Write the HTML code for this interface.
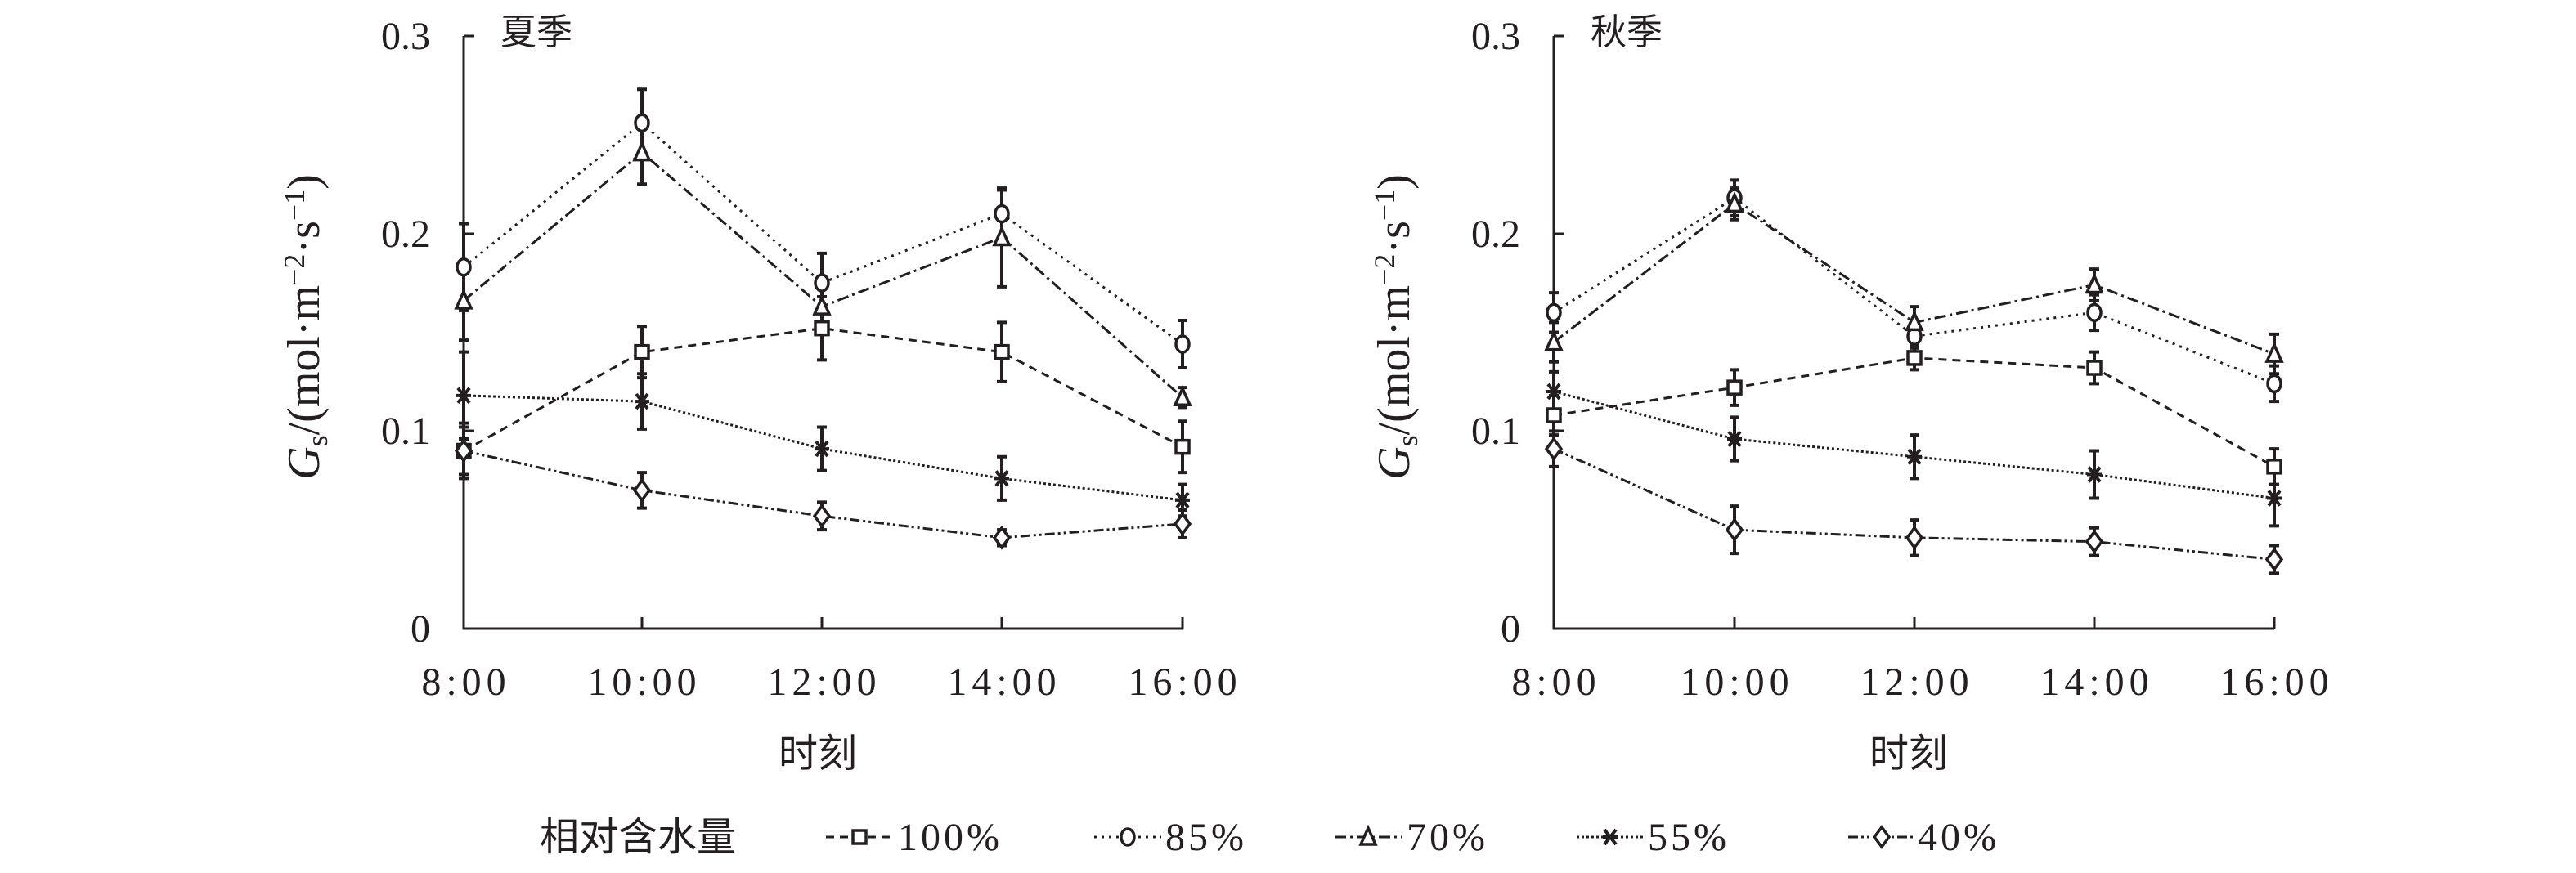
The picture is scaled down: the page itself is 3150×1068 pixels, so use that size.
<!DOCTYPE html>
<html><head><meta charset="utf-8"><style>
html,body{margin:0;padding:0;background:#fff;}
svg{display:block;}
text{font-family:"Liberation Serif","Noto Serif CJK SC",serif;fill:#231f20;}
.cj{font-family:"Liberation Sans","Noto Sans CJK SC",sans-serif;}
</style></head><body>
<svg id="s" width="3150" height="1068" viewBox="0 0 3150 1068" xmlns="http://www.w3.org/2000/svg">
<g stroke="#231f20" stroke-width="3" fill="none">
<path d="M567 44 V769 H1446 M567 44 H580 M567 286 H580 M567 527 H580 M785 769 V755 M1005 769 V755 M1225 769 V755 M1446 769 V755"/>
<path d="M1900 44 V769 H2781 M1900 44 H1913 M1900 286 H1913 M1900 527 H1913 M2121 769 V755 M2341 769 V755 M2561 769 V755 M2781 769 V755"/>
</g>
<g font-size="48" text-anchor="end">
<text x="526" y="60">0.3</text><text x="526" y="302">0.2</text><text x="526" y="543">0.1</text><text x="526" y="785">0</text>
<text x="1859" y="60">0.3</text><text x="1859" y="302">0.2</text><text x="1859" y="543">0.1</text><text x="1859" y="785">0</text>
</g>
<g font-size="48" text-anchor="middle" letter-spacing="6">
<text x="570" y="850">8:00</text><text x="788" y="850">10:00</text><text x="1008" y="850">12:00</text><text x="1228" y="850">14:00</text><text x="1449" y="850">16:00</text>
<text x="1903" y="850">8:00</text><text x="2124" y="850">10:00</text><text x="2344" y="850">12:00</text><text x="2564" y="850">14:00</text><text x="2784" y="850">16:00</text>
</g>
<text class="cj" x="612" y="54" font-size="44">夏季</text><text class="cj" x="1945" y="54" font-size="44">秋季</text>
<text class="cj" x="1000" y="938" font-size="48" text-anchor="middle">时刻</text><text class="cj" x="2334" y="938" font-size="48" text-anchor="middle">时刻</text>
<text class="cj" x="660" y="1040" font-size="48">相对含水量</text>
<g font-size="56">
<text transform="translate(390,400) rotate(-90)" text-anchor="middle"><tspan font-style="italic">G</tspan><tspan font-size="36" dy="10">s</tspan><tspan dy="-10">/(mol·m</tspan><tspan font-size="36" dy="-18">−2</tspan><tspan dy="18">·s</tspan><tspan font-size="36" dy="-18">−1</tspan><tspan dy="18">)</tspan></text>
<text transform="translate(1723,400) rotate(-90)" text-anchor="middle"><tspan font-style="italic">G</tspan><tspan font-size="36" dy="10">s</tspan><tspan dy="-10">/(mol·m</tspan><tspan font-size="36" dy="-18">−2</tspan><tspan dy="18">·s</tspan><tspan font-size="36" dy="-18">−1</tspan><tspan dy="18">)</tspan></text>
</g>
<g font-size="48" letter-spacing="4">
<text x="1098" y="1040">100%</text><text x="1425" y="1040">85%</text><text x="1720" y="1040">70%</text><text x="2015" y="1040">55%</text><text x="2345" y="1040">40%</text>
</g>
<g id="g"></g>
</svg>
<script>
var g=document.getElementById('g'),NS="http://www.w3.org/2000/svg";
function el(t,a){var e=document.createElementNS(NS,t);for(var k in a)e.setAttribute(k,a[k]);g.appendChild(e);return e;}
var dash=["10,7","3,6","14,5,3,5","3,3","12,4,3,4,3,4"];
function mk(type,x,y){var r=9,st={stroke:"#231f20","stroke-width":3.5,fill:"#fff"};
 if(type==0){st.x=x-r+1;st.y=y-r+1;st.width=2*r-2;st.height=2*r-2;el("rect",st);}
 else if(type==1){st.cx=x;st.cy=y;st.rx=r-1;st.ry=r+1;el("ellipse",st);}
 else if(type==2){st.points=(x)+","+(y-r-2)+" "+(x-r)+","+(y+r)+" "+(x+r)+","+(y+r);el("polygon",st);}
 else if(type==3){el("path",{d:"M"+(x-r)+" "+y+"H"+(x+r)+"M"+(x-r+2)+" "+(y-r)+"L"+(x+r-2)+" "+(y+r)+"M"+(x+r-2)+" "+(y-r)+"L"+(x-r+2)+" "+(y+r),stroke:"#231f20","stroke-width":4});}
 else {st.points=x+","+(y-r-3)+" "+(x+r)+","+y+" "+x+","+(y+r+3)+" "+(x-r)+","+y;el("polygon",st);}
}
function Y(v){return 769-v*2416.7;}
var panels=[{xs:[567,785,1005,1225,1446],d:[
 [[.09,.014],[.14,.013],[.152,.016],[.14,.015],[.092,.013]],
 [[.183,.022],[.256,.017],[.175,.015],[.21,.012],[.144,.012]],
 [[.166,.02],[.241,.016],[.163,.01],[.198,.025],[.117,.005]],
 [[.118,.022],[.115,.014],[.091,.011],[.076,.011],[.065,.008]],
 [[.09,.012],[.07,.009],[.057,.007],[.046,.004],[.053,.007]]]},
 {xs:[1900,2121,2341,2561,2781],d:[
 [[.108,.01],[.122,.009],[.137,.006],[.132,.008],[.082,.009]],
 [[.16,.01],[.218,.009],[.148,.006],[.16,.009],[.124,.009]],
 [[.145,.01],[.215,.008],[.155,.008],[.174,.008],[.139,.01]],
 [[.12,.01],[.096,.011],[.087,.011],[.078,.012],[.066,.014]],
 [[.091,.009],[.05,.012],[.046,.009],[.044,.007],[.035,.007]]]}];
panels.forEach(function(p){
 p.d.forEach(function(s,i){var d="";s.forEach(function(v,j){d+=(j?"L":"M")+p.xs[j]+" "+Y(v[0]);});
  el("path",{d:d,fill:"none",stroke:"#231f20","stroke-width":3,"stroke-dasharray":dash[i]});});
 p.d.forEach(function(s,i){s.forEach(function(v,j){var x=p.xs[j],a=Y(v[0]+v[1]),b=Y(v[0]-v[1]);
  el("path",{d:"M"+x+" "+a+"V"+b+"M"+(x-6)+" "+a+"H"+(x+6)+"M"+(x-6)+" "+b+"H"+(x+6),stroke:"#231f20","stroke-width":4,fill:"none"});});});
 p.d.forEach(function(s,i){s.forEach(function(v,j){mk(i,p.xs[j],Y(v[0]));});});
});
var lx=[1010,1338,1632,1928,2260];
lx.forEach(function(x,i){el("path",{d:"M"+x+" 1024H"+(x+82),stroke:"#231f20","stroke-width":3,"stroke-dasharray":dash[i]});mk(i,x+41,1024);});
</script>
</body></html>
